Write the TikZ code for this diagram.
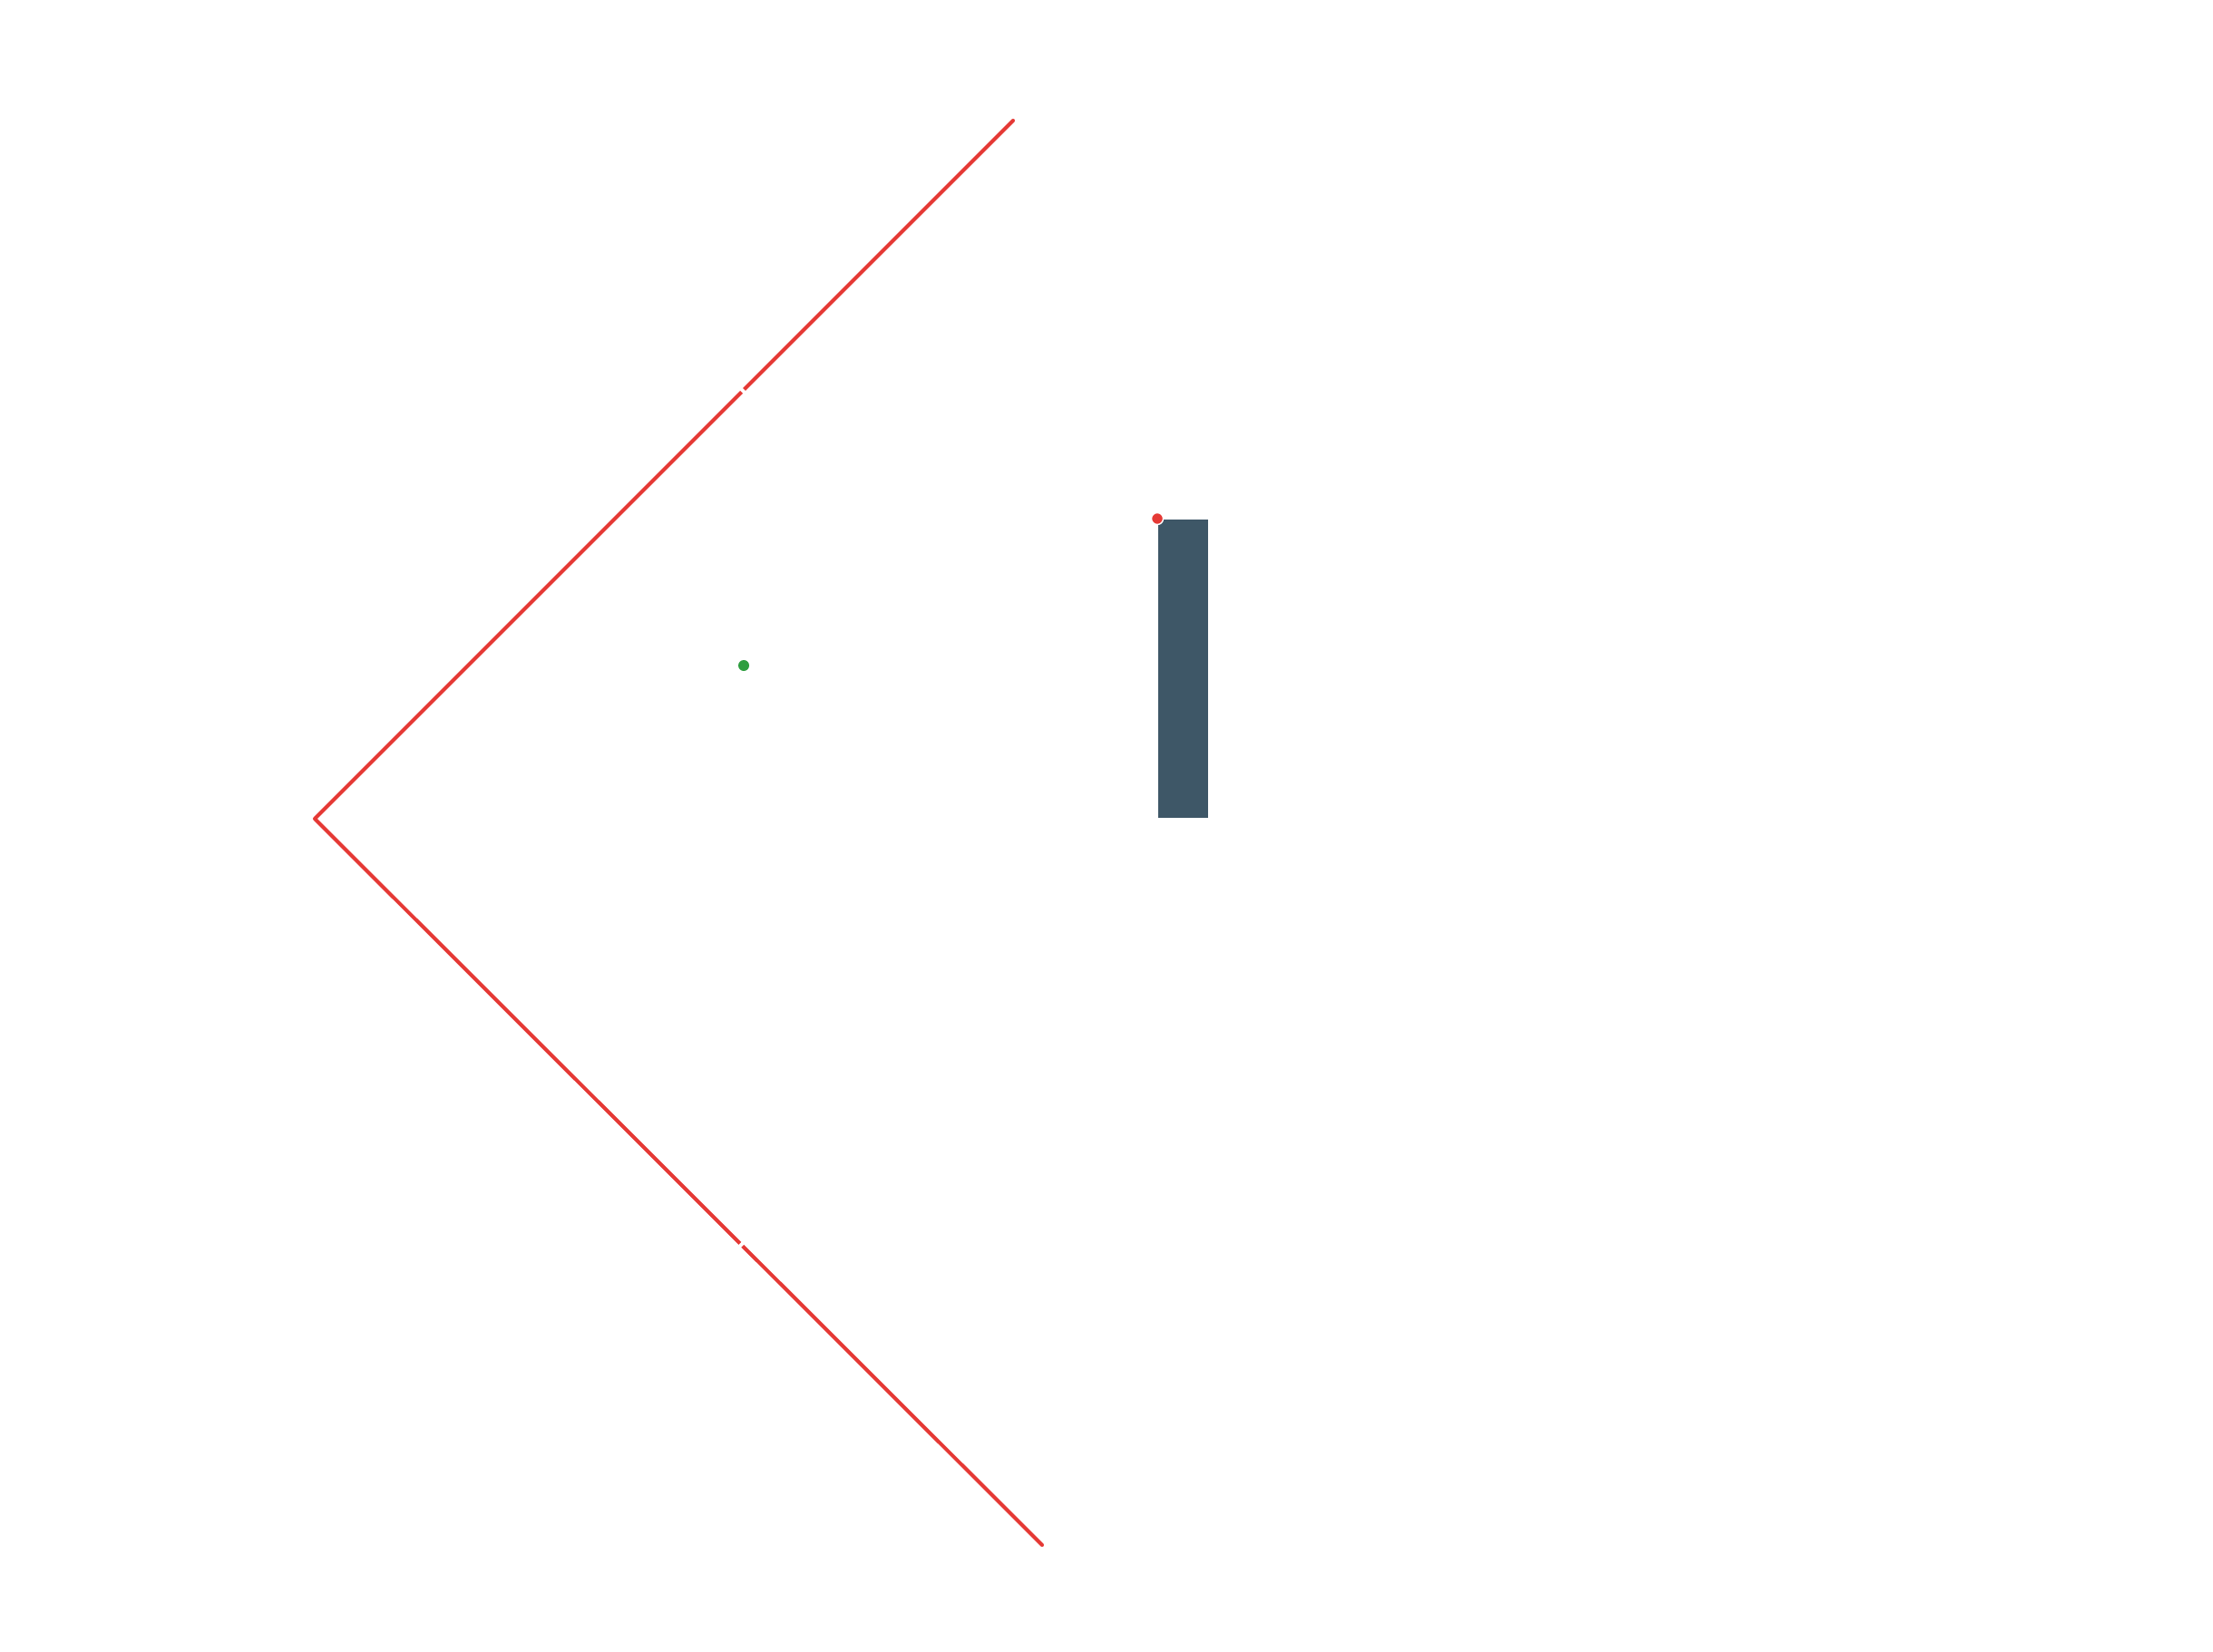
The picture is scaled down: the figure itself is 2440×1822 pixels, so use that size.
\documentclass[tikz,border=0pt]{standalone}
\usepackage{tikz}
\usetikzlibrary{positioning}
\definecolor{rayred}{RGB}{229,57,53}
\definecolor{barblue}{RGB}{62,87,103}
\definecolor{dotgreen}{RGB}{46,158,63}
\tikzset{
  ray/.style={draw=rayred, line width=1.15pt, line cap=round, line join=round},
  notch/.style={draw=white, line width=1.1pt},
  dot/.style={circle, inner sep=0pt, minimum size=#1}
}
\begin{document}
\begin{tikzpicture}[x=0.01cm,y=-0.01cm]
  \useasboundingbox[fill=white] (0,0) rectangle (2440,1822);
  \coordinate (apex) at (347,903);
  \coordinate (top) at (1117,133);
  \coordinate (bottom) at (1149,1704);
  \draw[ray] (top) -- (apex) -- (bottom);
  % small breaks in the rays
  \draw[notch] (813,425) -- (825,437);
  \draw[notch] (811,1379) -- (823,1367);
  \fill[barblue] (1277,573) rectangle (1332,902);
  \node[dot=0.13cm, fill=rayred, draw=white, line width=0.4pt] (corner) at (1276,572) {};
  \node[dot=0.12cm, fill=dotgreen] (centre) at (820,734) {};
\end{tikzpicture}
\end{document}
